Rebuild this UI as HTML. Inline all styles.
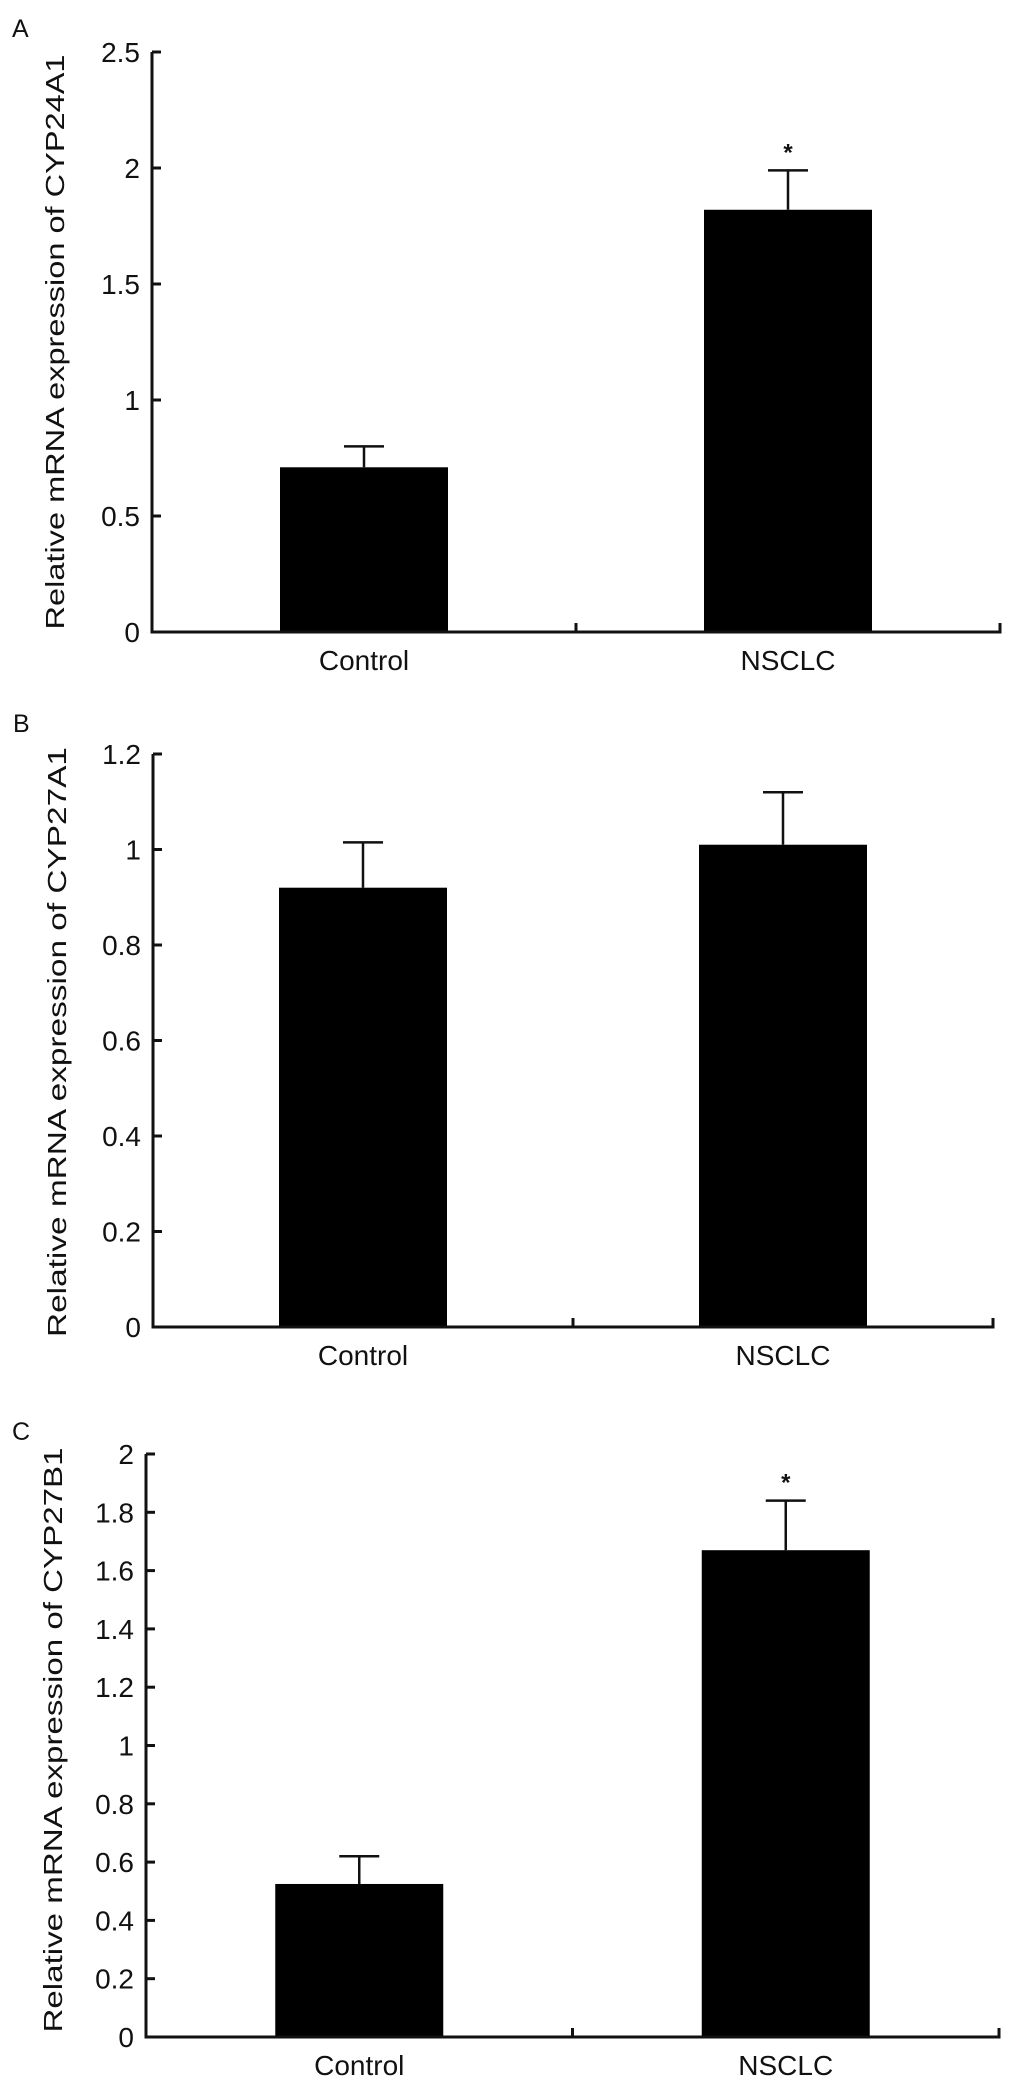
<!DOCTYPE html>
<html><head><meta charset="utf-8"><style>
html,body{margin:0;padding:0;background:#fff;}
svg{display:block;font-family:"Liberation Sans",Arial,sans-serif;}
</style></head><body>
<svg id="fig" width="1012" height="2087" viewBox="0 0 1012 2087"></svg>
<script>
const categories = ["Control", "NSCLC"];
const valuesA = [0.71, 1.82];
const errorsA = [0.80, 1.99];
const starsA = [false, true];
const ticksA = [0, 0.5, 1, 1.5, 2, 2.5];
const tickLabelsA = ["0", "0.5", "1", "1.5", "2", "2.5"];
const valuesB = [0.92, 1.01];
const errorsB = [1.015, 1.12];
const starsB = [false, false];
const ticksB = [0, 0.2, 0.4, 0.6, 0.8, 1, 1.2];
const tickLabelsB = ["0", "0.2", "0.4", "0.6", "0.8", "1", "1.2"];
const valuesC = [0.525, 1.67];
const errorsC = [0.62, 1.84];
const starsC = [false, true];
const ticksC = [0, 0.2, 0.4, 0.6, 0.8, 1, 1.2, 1.4, 1.6, 1.8, 2];
const tickLabelsC = ["0", "0.2", "0.4", "0.6", "0.8", "1", "1.2", "1.4", "1.6", "1.8", "2"];

const NS = "http://www.w3.org/2000/svg";
const svg = document.getElementById("fig");
function mk(tag, attrs, parent) {
  const e = document.createElementNS(NS, tag);
  for (const k in attrs) e.setAttribute(k, attrs[k]);
  (parent || svg).appendChild(e);
  return e;
}

function panel(cfg) {
  const g = mk("g", {});
  
  
  const yMax = cfg.ticks[cfg.ticks.length - 1];
  const y = v => cfg.y0 - (v / yMax) * (cfg.y0 - cfg.yTop);
  const bandW = (cfg.xEnd - cfg.x0) / categories.length;
  const xc = i => cfg.x0 + bandW * (i + 0.5);

  const letter = mk("text", {x: cfg.lx, y: cfg.ly, "font-size": 25, fill: "#111"}, g);
  letter.textContent = cfg.letter;
  
  

  const yt = mk("text", {x: 0, y: 0, "font-size": 26, fill: "#111", "text-anchor": "middle",
    textLength: cfg.titleLen, lengthAdjust: "spacingAndGlyphs",
    transform: `translate(${cfg.tx},${cfg.tcy}) rotate(-90)`}, g);
  yt.textContent = cfg.title;
  
  

  cfg.values.forEach((v, i) => {
    const bw = 168;
    const b = mk("rect", {x: xc(i) - bw / 2, y: y(v), width: bw, height: cfg.y0 - y(v), fill: "#000"}, g);
    
    
    const eb = mk("path", {d: `M${xc(i)} ${y(v)} V${y(cfg.errors[i])} M${xc(i) - 20} ${y(cfg.errors[i])} H${xc(i) + 20}`,
      stroke: "#111", "stroke-width": 2.5, fill: "none"}, g);
    
    
    if (cfg.stars[i]) {
      const s = mk("text", {x: xc(i), y: y(cfg.errors[i]) - 10, "font-size": 24, "font-weight": "bold", "text-anchor": "middle", fill: "#111"}, g);
      s.textContent = "*";
      
      
    }
    const lab = mk("text", {x: xc(i), y: cfg.y0 + 38, "font-size": 28, "text-anchor": "middle", fill: "#111"}, g);
    lab.textContent = categories[i];
    
    
  });

  const ya = mk("line", {x1: cfg.x0, y1: cfg.yTop, x2: cfg.x0, y2: cfg.y0 + 1.5, stroke: "#111", "stroke-width": 3}, g);
  
  
  const xa = mk("path", {d: `M${cfg.x0} ${cfg.y0} H${cfg.xEnd} V${cfg.y0 - 9} M${cfg.x0 + bandW} ${cfg.y0} V${cfg.y0 - 9}`,
    stroke: "#111", "stroke-width": 3, fill: "none"}, g);
  
  

  cfg.ticks.forEach((t, i) => {
    const tk = mk("line", {x1: cfg.x0, y1: y(t), x2: cfg.x0 + 9, y2: y(t), stroke: "#111", "stroke-width": 3}, g);
    
    
    const tl = mk("text", {x: cfg.x0 - 12, y: y(t) + 10, "font-size": 28, "text-anchor": "end", fill: "#111"}, g);
    tl.textContent = cfg.tickLabels[i];
    
    
  });
}

panel({letter: "A", lx: 12, ly: 37, x0: 152, xEnd: 1000, y0: 632, yTop: 52,
  ticks: ticksA, tickLabels: tickLabelsA, values: valuesA, errors: errorsA, stars: starsA,
  title: "Relative mRNA expression of CYP24A1", tx: 64, tcy: 342, titleLen: 575});
panel({letter: "B", lx: 13, ly: 732, x0: 153, xEnd: 993, y0: 1327, yTop: 754,
  ticks: ticksB, tickLabels: tickLabelsB, values: valuesB, errors: errorsB, stars: starsB,
  title: "Relative mRNA expression of CYP27A1", tx: 66, tcy: 1042, titleLen: 590});
panel({letter: "C", lx: 12, ly: 1440, x0: 146, xEnd: 999, y0: 2037, yTop: 1454,
  ticks: ticksC, tickLabels: tickLabelsC, values: valuesC, errors: errorsC, stars: starsC,
  title: "Relative mRNA expression of CYP27B1", tx: 62, tcy: 1740, titleLen: 585});
</script>
</body></html>
